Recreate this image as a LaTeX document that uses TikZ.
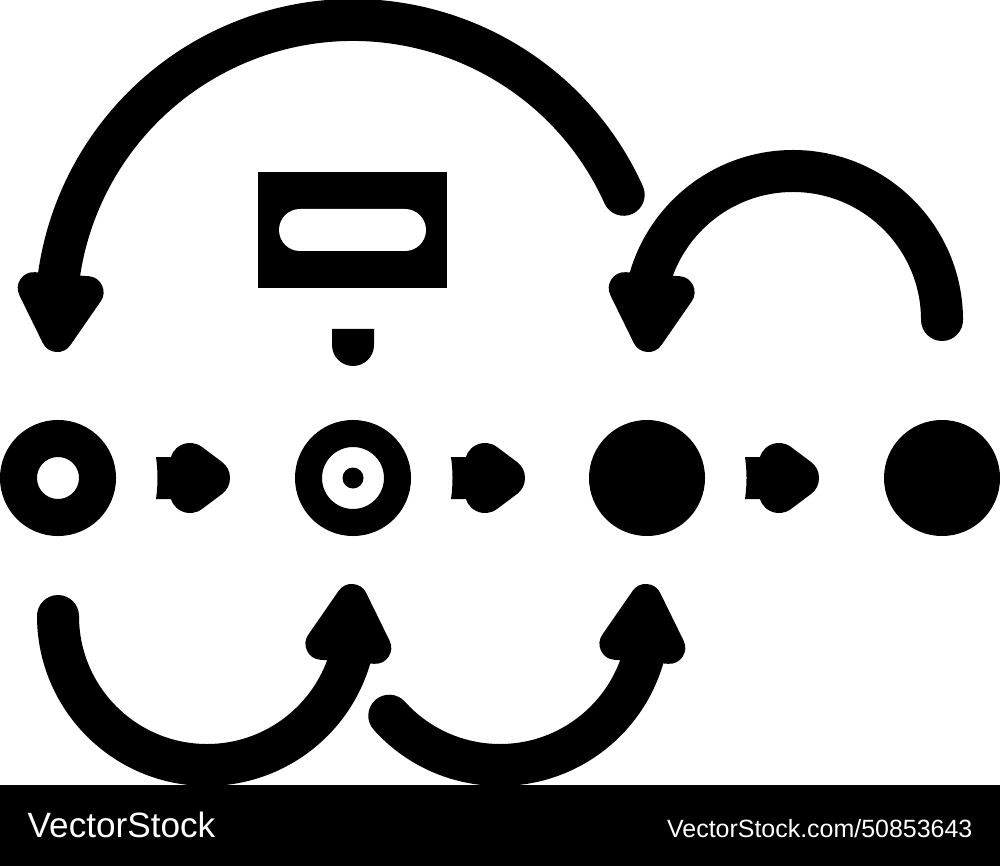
\documentclass[tikz,border=0pt]{standalone}
\usepackage{fontspec}
\setmainfont{Liberation Sans}
\tikzset{
  swing/.style={line width=0.42cm, line cap=round},
  ring/.style={circle, draw, inner sep=0pt},
  disc/.style={circle, fill, inner sep=0pt, minimum size=1.16cm},
  bighead/.pic={\filldraw[line width=0.32cm, line join=round] (-0.16,0) -- (-0.62,0.27) -- (-0.62,-0.27) -- cycle;},
  flowarrow/.pic={
    \fill (0,0.21) .. controls (0.02,0.07) and (0.02,-0.07) .. (0,-0.21) -- (0.3,-0.21) -- (0.3,0.21) -- cycle;
    \filldraw[line width=0.4cm, line join=round] (0.34,0.15) -- (0.54,0) -- (0.34,-0.15) -- cycle;}
}
\begin{document}
\begin{tikzpicture}
\useasboundingbox (0,0) rectangle (10,8.66);
\fill[white] (0,0) rectangle (10,8.66);
\coordinate (cbig) at (3.53,5.49);
\coordinate (ctr) at (7.93,5.46);
\coordinate (cbl) at (2.07,2.5);
\coordinate (cbr) at (5,2.5);
\draw[swing] (cbig) ++(24.3:2.97) arc[start angle=24.3, end angle=175.5, radius=2.97];
\draw[swing] (ctr) ++(0:1.49) arc[start angle=0, end angle=170, radius=1.49];
\draw[swing] (cbl) ++(180:1.49) arc[start angle=180, end angle=350, radius=1.49];
\draw[swing] (cbr) ++(222:1.49) arc[start angle=222, end angle=350, radius=1.49];
\pic[rotate=265.7] at (0.56,5.14) {bighead};
\pic[rotate=265.7] at (6.47,5.14) {bighead};
\pic[rotate=85.7] at (3.53,2.82) {bighead};
\pic[rotate=85.7] at (6.47,2.82) {bighead};
\node[ring, line width=0.37cm, minimum size=0.79cm] (s1) at (0.58,3.88) {};
\node[ring, line width=0.27cm, minimum size=0.89cm] (s2) at (3.53,3.88) {};
\node[disc, minimum size=0.21cm] (hub) at (s2) {};
\node[disc] (s3) at (6.47,3.88) {};
\node[disc] (s4) at (9.42,3.88) {};
\pic at (1.56,3.88) {flowarrow};
\pic at (4.51,3.88) {flowarrow};
\pic at (7.45,3.88) {flowarrow};
\node[fill, inner sep=0pt, minimum width=1.89cm, minimum height=1.16cm] (box) at (3.525,6.36) {};
\node[fill=white, inner sep=0pt, rounded corners=0.21cm, minimum width=1.47cm, minimum height=0.42cm] (slot) at (box) {};
\fill (3.32,5.37) -- (3.74,5.37) -- (3.74,5.21) arc[start angle=0, end angle=-180, radius=0.21] -- cycle;
\fill (0,0) rectangle (10,0.81);
\node[anchor=base west, inner sep=0pt, text=white, font=\fontsize{10}{12}\selectfont] (brand) at (0.27,0.29) {VectorStock};
\node[anchor=base east, inner sep=0pt, text=white, font=\fontsize{7.1}{9}\selectfont] (ref) at (9.73,0.29) {VectorStock.com/50853643};
\end{tikzpicture}
\end{document}
